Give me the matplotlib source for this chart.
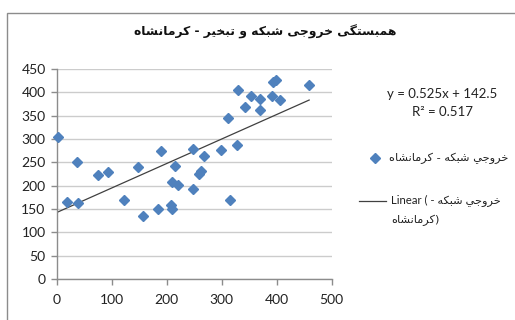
import matplotlib
matplotlib.use("Agg")
import matplotlib.pyplot as plt
from matplotlib.lines import Line2D
from matplotlib.patches import Rectangle

# ---------------- data ----------------
x_vals = [3, 19, 38, 36, 74.5, 94, 122, 147, 156, 185, 189, 207, 210, 209, 215,
          220, 247, 248, 258, 263, 268, 299, 311, 314.5, 327, 329.5, 342, 353,
          369.5, 369.5, 391, 394, 398, 406, 459]
y_vals = [305, 165.5, 162.5, 251, 223, 230, 168.5, 241, 135, 149, 275, 159, 150,
          207.5, 242, 201, 193, 278.5, 226, 231, 263, 275.5, 345.5, 168.5, 286.5,
          405.5, 369, 393, 385.5, 362, 393, 422, 426, 384, 415.5]
slope = 0.525
intercept = 142.5
r_squared = 0.517
x_ticks = [0, 100, 200, 300, 400, 500]
y_ticks = [0, 50, 100, 150, 200, 250, 300, 350, 400, 450]
title_text = "همبستگی خروجی شبکه و تبخیر - کرمانشاه"
series_name = "خروجي شبکه - کرمانشاه"

# ---------------- minimal Arabic/Persian shaping ----------------
FORMS = {
    'ا': ('\uFE8D', '\uFE8E', None, None),
    'ب': ('\uFE8F', '\uFE90', '\uFE91', '\uFE92'),
    'ت': ('\uFE95', '\uFE96', '\uFE97', '\uFE98'),
    'ج': ('\uFE9D', '\uFE9E', '\uFE9F', '\uFEA0'),
    'خ': ('\uFEA5', '\uFEA6', '\uFEA7', '\uFEA8'),
    'ر': ('\uFEAD', '\uFEAE', None, None),
    'س': ('\uFEB1', '\uFEB2', '\uFEB3', '\uFEB4'),
    'ش': ('\uFEB5', '\uFEB6', '\uFEB7', '\uFEB8'),
    'م': ('\uFEE1', '\uFEE2', '\uFEE3', '\uFEE4'),
    'ن': ('\uFEE5', '\uFEE6', '\uFEE7', '\uFEE8'),
    'ه': ('\uFEE9', '\uFEEA', '\uFEEB', '\uFEEC'),
    'و': ('\uFEED', '\uFEEE', None, None),
    'ي': ('\uFEF1', '\uFEF2', '\uFEF3', '\uFEF4'),
    'ی': ('\uFBFC', '\uFBFD', '\uFBFE', '\uFBFF'),
    'ک': ('\uFB8E', '\uFB8F', '\uFB90', '\uFB91'),
    'گ': ('\uFB92', '\uFB93', '\uFB94', '\uFB95'),
}


def dual(c):
    return c in FORMS and FORMS[c][2] is not None


def shape(s):
    out = []
    for i, ch in enumerate(s):
        if ch not in FORMS:
            out.append(ch)
            continue
        prev = s[i - 1] if i > 0 else None
        nxt = s[i + 1] if i + 1 < len(s) else None
        jp = prev is not None and dual(prev)
        jn = dual(ch) and nxt in FORMS
        f = FORMS[ch]
        if jp and jn:
            out.append(f[3])
        elif jp:
            out.append(f[1])
        elif jn:
            out.append(f[2])
        else:
            out.append(f[0])
    return ''.join(out)


def rtl(s):
    return shape(s)[::-1]


# ---------------- figure ----------------
W, H = 515, 320
fig = plt.figure(figsize=(W / 100, H / 100), dpi=100)
fig.patch.set_facecolor('white')

def fx(px):
    return px / W

def fy(py):
    return 1 - py / H

# outer chart border (cut off at right/bottom)
fig.patches.append(Rectangle((fx(7), fy(330)), fx(530) - fx(7), fy(12.5) - fy(330),
                             transform=fig.transFigure, fill=False,
                             edgecolor='#8c8c8c', linewidth=1.0))

ax = fig.add_axes([fx(56.7), fy(279), fx(331.7) - fx(56.7), fy(69) - fy(279)])
ax.set_xlim(0, 500)
ax.set_ylim(0, 450)
ax.set_xticks(x_ticks)
ax.set_yticks(y_ticks)
ax.set_xticklabels([str(v) for v in x_ticks])
ax.set_yticklabels([str(v) for v in y_ticks])
ax.yaxis.grid(True, color='#cccccc', linewidth=1.0)
ax.set_axisbelow(True)
for side in ('top', 'right'):
    ax.spines[side].set_visible(False)
for side in ('left', 'bottom'):
    ax.spines[side].set_color('#8c8c8c')
    ax.spines[side].set_linewidth(1.0)
ax.tick_params(axis='both', colors='#8c8c8c', length=4, width=1.0,
               labelcolor='#222222', labelsize=10)
ax.tick_params(axis='x', pad=7)
ax.tick_params(axis='y', pad=4)
for lab in ax.get_xticklabels() + ax.get_yticklabels():
    lab.set_family('Lato')

# trend line
xmax = max(x_vals)
ax.plot([0, xmax], [intercept, intercept + slope * xmax], color='#404040',
        linewidth=0.9, zorder=2)

# scatter
ax.plot(x_vals, y_vals, linestyle='none', marker='D', markersize=5.2,
        color='#4F81BD', markeredgecolor='#4F81BD', zorder=3, clip_on=False)

# title
fig.text(fx(265), fy(32), rtl(title_text), ha='center', va='center',
         fontsize=8.9, fontweight='bold', family=['DejaVu Sans'], color='#111111')

# equation
fig.text(fx(442), fy(94), f"y = {slope:.3f}x + {intercept:.1f}", ha='center',
         va='center', fontsize=9.5, family=['Lato'], color='#222222')
fig.text(fx(442), fy(112), f"R² = {r_squared:.3f}", ha='center',
         va='center', fontsize=9.5, family=['Lato'], color='#222222')

# legend (manual)
fig.add_artist(Line2D([fx(375)], [fy(158)], marker='D', markersize=5.2,
                      color='#4F81BD', linestyle='none',
                      transform=fig.transFigure))
fig.text(fx(389), fy(158), rtl(series_name), ha='left', va='center',
         fontsize=8.2, family=['DejaVu Sans'], color='#222222')

fig.add_artist(Line2D([fx(359), fx(386)], [fy(201), fy(201)], color='#404040',
                      linewidth=0.9, transform=fig.transFigure))
line1 = "Linear ( " + rtl("خروجي شبکه -")
line2 = rtl("کرمانشاه") + ")"
fig.text(fx(391), fy(201), line1, ha='left', va='center', fontsize=8.2,
         family=['Lato', 'DejaVu Sans'], color='#222222')
fig.text(fx(391), fy(220), line2, ha='left', va='center', fontsize=8.2,
         family=['DejaVu Sans'], color='#222222')

fig.savefig('out.png', dpi=100, facecolor='white')
